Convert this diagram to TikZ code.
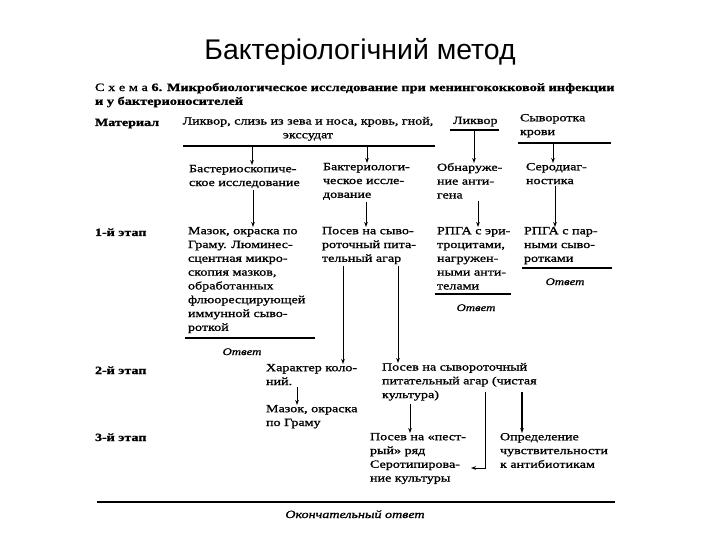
\documentclass[tikz,border=0pt]{standalone}
\usepackage{fontspec}
\setmainfont{Liberation Serif}
\newfontfamily\sch[FakeStretch=1.28,FakeBold=1.2]{Liberation Serif}
\newfontfamily\ttl{Liberation Sans}
\usetikzlibrary{arrows.meta}
\begin{document}
\begin{tikzpicture}[x=1pt,y=-1pt,
  tx/.style={anchor=north west, inner sep=0pt, outer sep=0pt, align=left,
    font=\sch\fontsize{11}{13.8}\selectfont,
    execute at begin node={\rule{0pt}{9pt}}, yshift=9pt},
  txc/.style={tx, anchor=north, align=center},
  lbl/.style={tx, font=\sch\bfseries\fontsize{11}{13.8}\selectfont},
  ans/.style={txc, font=\sch\itshape\fontsize{10}{13.8}\selectfont},
  rule/.style={line width=1.2pt},
  arr/.style={-{Stealth[length=5pt,width=3.6pt]}, line width=0.9pt},
  tarr/.style={arr, line width=1.8pt}]
\useasboundingbox (0,0) rectangle (720,540);

% title
\node[anchor=base, inner sep=0pt, font=\ttl\fontsize{28.4}{32}\selectfont] (title) at (360,60) {Бактеріологічний метод};

% header
\node[lbl, font=\sch\fontsize{11.2}{13.8}\selectfont] (hdr) at (95,92)
  {С х е м а \textbf{6. Микробиологическое исследование при менингококковой инфекции}\\
   \textbf{и у бактерионосителей}};

% material row
\node[lbl] (mat) at (95,126) {Материал};
\node[txc] (src) at (308,126) {Ликвор, слизь из зева и носа, кровь, гной,\\экссудат};
\coordinate (srcL) at (183,146); \coordinate (srcR) at (435,146);
\draw[rule] (srcL) -- (srcR);
\node[tx] (liq) at (453,124) {Ликвор};
\coordinate (liqL) at (450,130); \coordinate (liqR) at (499,130);
\draw[rule] (liqL) -- (liqR);
\node[tx] (syv) at (520,123) {Сыворотка\\крови};
\coordinate (syvL) at (518,143); \coordinate (syvR) at (611,143);
\draw[rule] (syvL) -- (syvR);

% row 2
\node[tx] (c1a) at (189,174) {Бастериоскопиче-\\ское исследование};
\node[tx] (c2a) at (323,172) {Бактериологи-\\ческое иссле-\\дование};
\node[tx] (c3a) at (437,172) {Обнаруже-\\ние анти-\\гена};
\node[tx] (c4a) at (526,172) {Серодиаг-\\ностика};

\coordinate (s1) at (252,146); \coordinate (s2) at (367,146);
\coordinate (s3) at (474,130); \coordinate (s4) at (553,143);
\draw[arr] (s1) -- (s1 |- c1a.north);
\draw[arr] (s2) -- (s2 |- c2a.north);
\draw[arr] (s3) -- (s3 |- c3a.north);
\draw[arr] (s4) -- (s4 |- c4a.north);

% stage 1
\node[lbl] (st1) at (95,236) {1-й этап};
\node[tx] (c1b) at (188,236) {Мазок, окраска по\\Граму. Люминес-\\сцентная микро-\\скопия мазков,\\обработанных\\флюоресцирующей\\иммунной сыво-\\роткой};
\node[tx] (c2b) at (322,236) {Посев на сыво-\\роточный пита-\\тельный агар};
\node[tx] (c3b) at (437,236) {РПГА с эри-\\троцитами,\\нагружен-\\ными анти-\\телами};
\node[tx] (c4b) at (524,236) {РПГА с пар-\\ными сыво-\\ротками};

\draw[arr] ([xshift=64pt,yshift=-2pt]c1a.south west) -- ([xshift=64pt]c1a.south west |- c1b.north);
\draw[arr] ([xshift=43pt,yshift=-2pt]c2a.south west) -- ([xshift=43pt]c2a.south west |- c2b.north);
\draw[arr] ([xshift=41pt,yshift=-2pt]c3a.south west) -- ([xshift=41pt]c3a.south west |- c3b.north);
\draw[arr] ([xshift=29pt,yshift=-2pt]c4a.south west) -- ([xshift=29pt]c4a.south west |- c4b.north);

\coordinate (r1L) at (185,338); \coordinate (r1R) at (315,338);
\draw[rule] (r1L) -- (r1R);
\node[ans] (ans1) at (242,355) {Ответ};
\coordinate (r3L) at (435,294); \coordinate (r3R) at (511,294);
\draw[rule] (r3L) -- (r3R);
\node[ans] (ans3) at (476,311) {Ответ};
\coordinate (r4L) at (522,268); \coordinate (r4R) at (612,268);
\draw[rule] (r4L) -- (r4R);
\node[ans] (ans4) at (565,285) {Ответ};

% stage 2
\node[lbl] (st2) at (95,374) {2-й этап};
\node[tx] (kh) at (266,373) {Характер коло-\\ний.};
\node[tx] (mz2) at (266,414) {Мазок, окраска\\по Граму};
\node[tx] (pos2) at (382,372) {Посев на сывороточный\\питательный агар (чистая\\культура)};

\draw[arr] ([xshift=21pt,yshift=-2pt]c2b.south west) -- ([xshift=21pt]c2b.south west |- kh.north);
\draw[arr] ([xshift=76pt,yshift=-2pt]c2b.south west) -- ([xshift=76pt]c2b.south west |- pos2.north);
\draw[arr] ([xshift=31pt,yshift=-2pt]kh.south west) -- ([xshift=31pt]kh.south west |- mz2.north);

% stage 3
\node[lbl] (st3) at (95,441) {3-й этап};
\node[tx] (pest) at (370,442) {Посев на «пест-\\рый» ряд\\Серотипирова-\\ние культуры};
\node[tx] (opr) at (500,442) {Определение\\чувствительности\\к антибиотикам};

\draw[arr] ([xshift=28pt,yshift=-3pt]pos2.south west) -- ([xshift=28pt]pos2.south west |- pest.north);
\coordinate (sero) at (471,468);
\coordinate (tA) at (485,392);
\coordinate (tB) at (522,392);
\draw[arr] (tA) |- (sero);
\draw[tarr] (tB) -- (tB |- opr.north);

% final
\coordinate (fL) at (97,502); \coordinate (fR) at (615,502);
\draw[rule] (fL) -- (fR);
\node[ans, font=\sch\itshape\fontsize{11}{13.8}\selectfont] (fin) at (355,518) {Окончательный ответ};
\end{tikzpicture}
\end{document}
